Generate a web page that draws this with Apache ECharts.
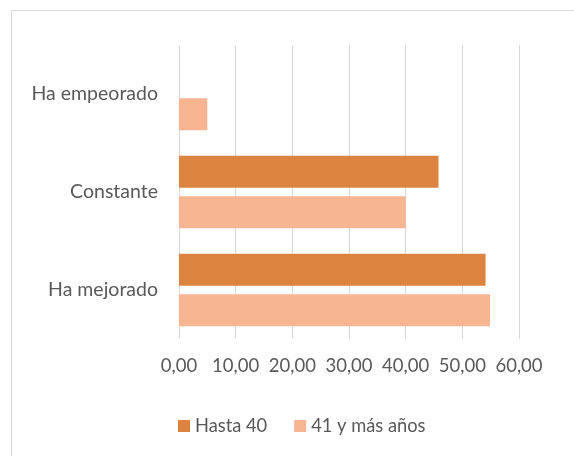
<!DOCTYPE html>
<html>
<head>
<meta charset="utf-8">
<script src="https://cdn.jsdelivr.net/npm/echarts@6/dist/echarts.min.js"></script>
<style>
  html, body { margin: 0; padding: 0; background: #fff; }
  #chart { width: 574px; height: 456px; }
</style>
</head>
<body>
<div id="chart"></div>
<script>
var categories = ['Ha mejorado', 'Constante', 'Ha empeorado'];
var hasta40 = [54.1, 45.8, 0];
var mas41 = [54.9, 40.0, 5.0];
var seriesNames = ['Hasta 40', '41 y más años'];

var chartDom = document.getElementById('chart');
var myChart = echarts.init(chartDom);
var option;

var textColor = '#595959';
var font = 'Lato';

option = {
  animation: false,
  graphic: [
    {
      type: 'rect',
      shape: { x: 11.5, y: 10.5, width: 620, height: 520 },
      style: { fill: 'none', stroke: '#d9d9d9', lineWidth: 1 },
      silent: true,
    },
  ],
  grid: {
    left: 179,
    right: 55,
    top: 45,
    bottom: 117,
  },
  legend: {
    data: seriesNames,
    left: 173,
    top: 412,
    icon: 'rect',
    itemWidth: 12,
    itemHeight: 12,
    itemGap: 27,
    textStyle: { color: textColor, fontFamily: font, fontSize: 18.3 },
  },
  xAxis: {
    type: 'value',
    min: 0,
    max: 60,
    interval: 10,
    axisLine: { show: false },
    axisTick: { show: false },
    splitLine: { lineStyle: { color: '#d9d9d9', width: 1 } },
    axisLabel: {
      margin: 18,
      color: textColor,
      fontFamily: font,
      fontSize: 18.5,
      formatter: function (v) {
        return v.toFixed(2).replace('.', ',');
      },
    },
  },
  yAxis: {
    type: 'category',
    data: categories,
    axisLine: { show: false },
    axisTick: { show: false },
    axisLabel: {
      margin: 21,
      color: textColor,
      fontFamily: font,
      fontSize: 19.5,
    },
  },
  series: [
    {
      name: seriesNames[0],
      type: 'bar',
      data: hasta40,
      barWidth: 32,
      barGap: '27%',
      itemStyle: { color: '#dc843f' },
    },
    {
      name: seriesNames[1],
      type: 'bar',
      data: mas41,
      barWidth: 32,
      barGap: '27%',
      itemStyle: { color: '#f8b592' },
    },
  ],
};

option && myChart.setOption(option);
</script>
</body>
</html>
